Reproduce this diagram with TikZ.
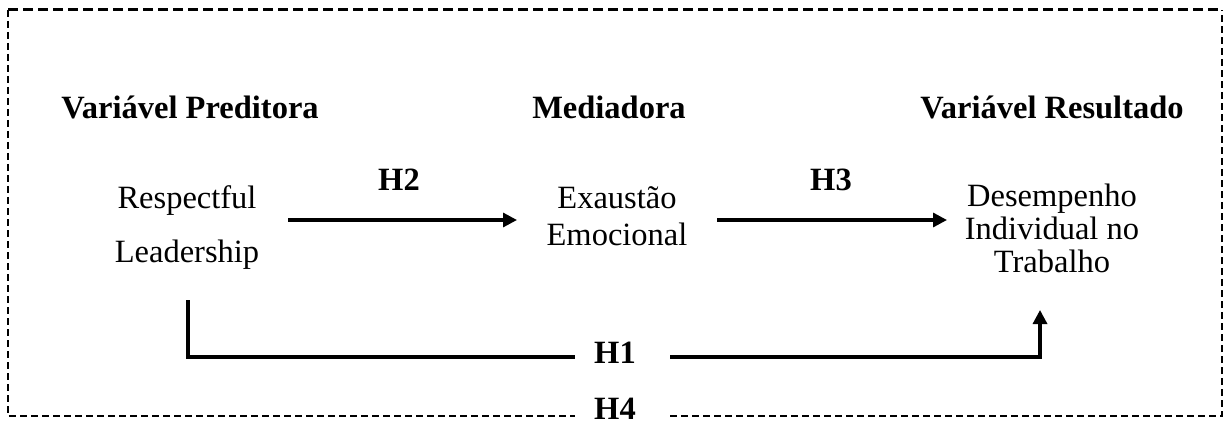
\documentclass[tikz,border=0pt]{standalone}
\usepackage{fontspec}
\setmainfont{Liberation Serif}
\usetikzlibrary{arrows.meta}
\begin{document}
\begin{tikzpicture}[x=1pt,y=-1pt,
  txt/.style={font=\fontsize{32.5}{34}\selectfont, inner sep=0pt, anchor=base},
  hdr/.style={font=\fontsize{32.5}{34}\selectfont\bfseries, inner sep=0pt, anchor=base},
  conn/.style={line width=3.2pt, -{Triangle[length=14pt,width=14pt]}},
  plain/.style={line width=3.2pt},
  frametop/.style={line width=3pt, dash pattern=on 10pt off 5pt},
  frame/.style={line width=2pt, dash pattern=on 7pt off 4pt}]
\useasboundingbox (0,0) rectangle (1225,422);
\fill[white] (0,0) rectangle (1225,422);
% frame
\coordinate (tl) at (8,10);
\coordinate (tr) at (1222,10);
\coordinate (bl) at (8,416);
\coordinate (br) at (1222,416);
\coordinate (g1) at (575,416);
\coordinate (g2) at (670,416);
\draw[frametop] (tl) -- (tr);
\draw[frame] (tl) -- (bl) -- (g1);
\draw[frame] (g2) -- (br) -- (tr);
% headers
\node[hdr] (hp) at (190,119) {Variável Preditora};
\node[hdr] (hm) at (609,119) {Mediadora};
\node[hdr] (hr) at (1052,119) {Variável Resultado};
% variables
\node[txt] (rl1) at (187,208) {Respectful};
\node[txt] (rl2) at (187,262) {Leadership};
\node[txt] (ee1) at (617,208) {Exaustão};
\node[txt] (ee2) at (617,245) {Emocional};
\node[txt] (dt1) at (1052,207) {Desempenho};
\node[txt] (dt2) at (1052,239) {Individual no};
\node[txt] (dt3) at (1052,272) {Trabalho};
% labels
\node[hdr] (h2) at (399,190) {H2};
\node[hdr] (h3) at (831,190) {H3};
\node[hdr] (h1) at (615,363) {H1};
\node[hdr] (h4) at (615,419) {H4};
% connectors
\coordinate (a2s) at (288,220);
\coordinate (a2e) at (517,220);
\coordinate (a3s) at (717,220);
\coordinate (a3e) at (947,220);
\draw[conn] (a2s) -- (a2e);
\draw[conn] (a3s) -- (a3e);
\coordinate (p1) at (188,300);
\coordinate (p2) at (188,357);
\coordinate (p3) at (575,357);
\coordinate (p4) at (670,357);
\coordinate (p5) at (1040,357);
\coordinate (p6) at (1040,310);
\draw[plain] (p1) -- (p2) -- (p3);
\draw[conn] (p4) -- (p5) -- (p6);
\end{tikzpicture}
\end{document}
